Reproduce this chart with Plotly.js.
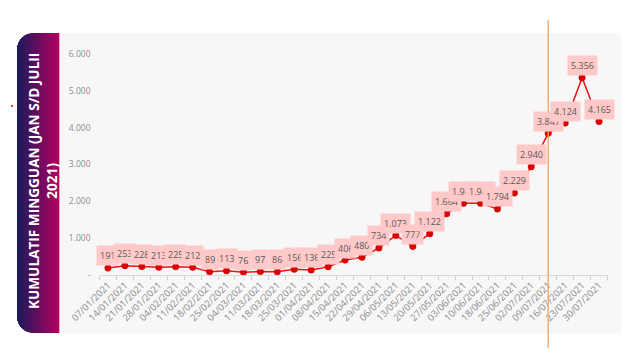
<!DOCTYPE html>
<html>
<head>
<meta charset="utf-8">
<script src="https://cdn.plot.ly/plotly-3.0.1.min.js"></script>
<style>html,body{margin:0;padding:0;background:#fff;}#chart{width:640px;height:360px;}</style>
</head>
<body>
<div id="chart"></div>
<script>
const dates = ['07/01/2021','14/01/2021','21/01/2021','28/01/2021','04/02/2021','11/02/2021','18/02/2021','25/02/2021','04/03/2021','11/03/2021','18/03/2021','25/03/2021','01/04/2021','08/04/2021','15/04/2021','22/04/2021','29/04/2021','06/05/2021','13/05/2021','20/05/2021','27/05/2021','03/06/2021','10/06/2021','18/06/2021','25/06/2021','02/07/2021','09/07/2021','16/07/2021','23/07/2021','30/07/2021'];
const values = [191,253,228,213,225,212,89,113,76,97,86,156,136,225,406,480,734,1073,777,1122,1664,1945,1947,1794,2229,2940,3847,4124,5356,4165];
const yTickVals = [0,1000,2000,3000,4000,5000,6000];
const yTickText = ['-','1.000','2.000','3.000','4.000','5.000','6.000'];
const markerDate = '09/07/2021';
const titleText = 'KUMULATIF MINGGUAN (JAN S/D JULII<br>2021)';

const W = 640, H = 360;
const px = x => x / W;
const py = y => 1 - y / H;

function fmt(v) {
  return v >= 1000 ? Math.floor(v / 1000) + '.' + String(v % 1000).padStart(3, '0') : String(v);
}

const shapes = [];
// gray background panel
shapes.push({type:'rect', xref:'paper', yref:'paper', x0:px(59), x1:px(621), y0:py(333), y1:py(33),
  fillcolor:'#f7f7f7', line:{width:0}, layer:'below'});
// gradient title panel with rounded left corners (navy on the left, magenta on the right)
const c0 = [26, 26, 92], c1 = [178, 0, 96];
const L = 17, R = 59, T = 33, B = 333, rad = 16;
for (let i = L; i < R; i++) {
  const t = (i - L) / (R - L - 1);
  const c = c0.map((a, k) => Math.round(a + (c1[k] - a) * t));
  let dy = 0;
  if (i < L + rad) {
    const d = L + rad - (i + 0.5);
    dy = rad - Math.sqrt(Math.max(0, rad * rad - d * d));
  }
  shapes.push({type:'rect', xref:'paper', yref:'paper', x0:px(i), x1:px(i + 1.3), y0:py(B - dy), y1:py(T + dy),
    fillcolor:'rgb(' + c.join(',') + ')', line:{width:0}, layer:'below'});
}
// small red dot
shapes.push({type:'circle', xref:'paper', yref:'paper', x0:px(11), x1:px(13), y0:py(107), y1:py(105),
  fillcolor:'#e00000', line:{width:0}});
// vertical orange line
shapes.push({type:'line', xref:'x', yref:'paper', x0:markerDate, x1:markerDate, y0:py(348), y1:py(20),
  line:{color:'#f4a460', width:1.3}});

const annotations = dates.map((d, i) => ({
  x: d, y: values[i], xref:'x', yref:'y', text: fmt(values[i]), showarrow:false,
  yshift: 12, bgcolor:'#ffc9c9', borderpad: 3,
  font:{family:'Open Sans, sans-serif', size:9, color:'#595959'}
}));
annotations.push({
  xref:'paper', yref:'paper', x:px(42), y:py(181), text:titleText, showarrow:false,
  textangle:-90, xanchor:'center', yanchor:'middle',
  font:{family:'Open Sans, sans-serif', size:13.6, color:'#ffffff', weight:'bold'}
});

const trace = {
  x: dates, y: values, type:'scatter', mode:'lines+markers',
  line:{color:'#ee1111', width:1.5},
  marker:{color:'#dd0000', size:6.5, line:{color:'#cc0000', width:0.5}},
  hoverinfo:'skip'
};

const layout = {
  width: W, height: H,
  margin:{l:0, r:0, t:0, b:0},
  paper_bgcolor:'#ffffff', plot_bgcolor:'rgba(0,0,0,0)',
  showlegend:false,
  xaxis:{
    type:'category', domain:[px(99.5), px(607.5)], range:[-0.5, 29.5],
    tickangle:-45, tickson:'boundaries', ticks:'outside', ticklen:4, tickcolor:'#d0d0d0',
    showline:true, linecolor:'#d9d9d9', linewidth:1, showgrid:false, zeroline:false,
    tickfont:{family:'Open Sans, sans-serif', size:9.5, color:'#8c8c8c'}
  },
  yaxis:{
    domain:[py(275), py(54)], range:[0, 6000],
    tickvals: yTickVals, ticktext: yTickText, ticks:'', ticklabelstandoff:8,
    showline:false, showgrid:false, zeroline:false,
    tickfont:{family:'Open Sans, sans-serif', size:8.5, color:'#8c8c8c'}
  },
  shapes: shapes,
  annotations: annotations
};

Plotly.newPlot('chart', [trace], layout, {displayModeBar:false, staticPlot:true});
</script>
</body>
</html>
